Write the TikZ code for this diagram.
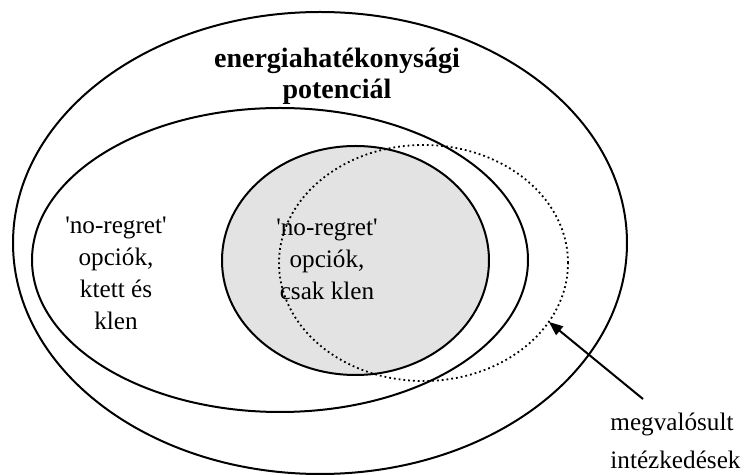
\documentclass[tikz,border=0pt]{standalone}
\usepackage{fontspec}
\setmainfont{Liberation Serif}
\usepackage{tikz}
\usetikzlibrary{shapes.geometric,arrows.meta}

\begin{document}
\begin{tikzpicture}[x=0.5pt,y=-0.5pt]
      \tikzstyle{halmaz}=[ellipse,draw,line width=1pt,inner sep=0pt]
      \tikzstyle{felirat}=[align=center,inner sep=0pt,font=\fontsize{12.6}{16}\selectfont]
      \useasboundingbox (0,0) rectangle (751,475);
      \node[halmaz,minimum width=307pt,minimum height=231pt] (potencial) at (320,243) {};
      \node[halmaz,minimum width=248pt,minimum height=152pt] (ktett) at (280,260) {};
      \node[halmaz,fill=black!11,minimum width=133.5pt,minimum height=114.5pt] (klen) at (355.5,260.5) {};
      \node[halmaz,draw=none,minimum width=144.5pt,minimum height=118pt] (megval) at (422.5,263) {};
      \draw[line width=0.9pt,dash pattern=on 0.9pt off 1.5pt] (megval.east) arc[start angle=0,end angle=360,x radius=144.5,y radius=-118];
      \node[felirat,font=\fontsize{14}{15.5}\selectfont\bfseries] (cim) at (337,76) {energiahatékonysági\\potenciál};
      \node[felirat] (ktettszoveg) at (116,273) {\textquotesingle no-regret\textquotesingle\\opciók,\\ktett és\\klen};
      \node[felirat] (klenszoveg) at (327,259) {\textquotesingle no-regret\textquotesingle\\opciók,\\csak klen};
      \node[felirat,align=left,anchor=west,font=\fontsize{12.6}{19}\selectfont] (intezk) at (610,441) {megvalósult\\intézkedések};
      \coordinate (nyilveg) at (643,399);
      \draw[line width=1pt,-{Triangle[length=7pt,width=5.5pt]}] (nyilveg) -- (megval.-25);
\end{tikzpicture}
\end{document}
